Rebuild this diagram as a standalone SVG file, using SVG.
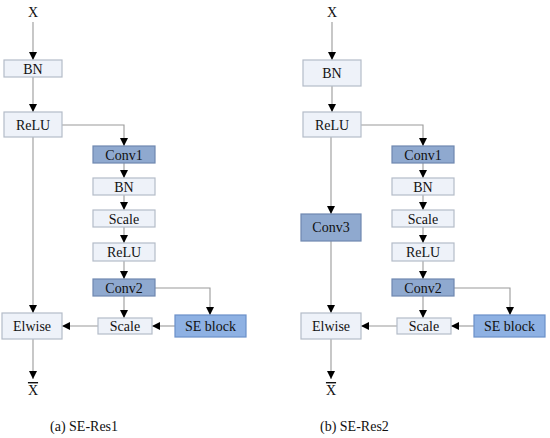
<svg xmlns="http://www.w3.org/2000/svg" width="550" height="438" viewBox="0 0 550 438" font-family="'Liberation Serif', 'DejaVu Serif', 'Times New Roman', serif">
<style>
text{font-size:14px;fill:#111;text-anchor:middle}
.lt{fill:#eef2f9;stroke:#b4bcc8;stroke-width:1.2}
.dk{fill:#8fa9cf;stroke:#6f88b0;stroke-width:1.2}
.se{fill:#8eb1e3;stroke:#6a8fc8;stroke-width:1.2}
.c path{fill:none;stroke:#9a9a9a;stroke-width:1.1;marker-end:url(#ah)}
.cap{text-anchor:start}
</style>
<defs>
<marker id="ah" viewBox="0 0 8 8" refX="8" refY="4" markerWidth="8" markerHeight="8" orient="auto" markerUnits="userSpaceOnUse">
<path d="M0,0 L8,4 L0,8 z" fill="#000"/>
</marker>
</defs>
<g class="c" id="connectors">
<path d="M33,22 V60"/>
<path d="M33,77 V112"/>
<path d="M62,125 H124 V146"/>
<path d="M124,163 V178"/>
<path d="M124,195 V210"/>
<path d="M124,227 V243"/>
<path d="M124,261 V279"/>
<path d="M124,296 V318"/>
<path d="M155,288 H210 V315"/>
<path d="M175,326 H152"/>
<path d="M98,326 H62"/>
<path d="M33,137 V313"/>
<path d="M33,339 V379"/>
<path d="M332,22 V60"/>
<path d="M332,86 V112"/>
<path d="M361,125 H423 V146"/>
<path d="M423,163 V178"/>
<path d="M423,195 V210"/>
<path d="M423,227 V243"/>
<path d="M423,261 V279"/>
<path d="M423,296 V318"/>
<path d="M454,288 H510 V315"/>
<path d="M474,326 H451"/>
<path d="M397,326 H361"/>
<path d="M331,137 V214"/>
<path d="M331,241 V313"/>
<path d="M331,339 V379"/>
</g>
<g id="a-x"><text x="33" y="17">X</text></g>
<g id="a-bn"><rect class="lt" x="4" y="60" width="58" height="17"/><text x="33" y="73.5">BN</text></g>
<g id="a-relu"><rect class="lt" x="4" y="112" width="58" height="25"/><text x="33" y="129.5">ReLU</text></g>
<g id="a-conv1"><rect class="dk" x="93" y="146" width="62" height="17"/><text x="124" y="159.5">Conv1</text></g>
<g id="a-bn2"><rect class="lt" x="93" y="178" width="62" height="17"/><text x="124" y="191.5">BN</text></g>
<g id="a-scale1"><rect class="lt" x="93" y="210" width="62" height="17"/><text x="124" y="223.5">Scale</text></g>
<g id="a-relu2"><rect class="lt" x="93" y="243" width="62" height="18"/><text x="124" y="256.5">ReLU</text></g>
<g id="a-conv2"><rect class="dk" x="93" y="279" width="62" height="17"/><text x="124" y="292.5">Conv2</text></g>
<g id="a-scale2"><rect class="lt" x="98" y="318" width="54" height="16"/><text x="125" y="331">Scale</text></g>
<g id="a-se"><rect class="se" x="175" y="315" width="71" height="22"/><text x="210.5" y="331">SE block</text></g>
<g id="a-elwise"><rect class="lt" x="2" y="313" width="60" height="26"/><text x="32" y="331">Elwise</text></g>
<g id="a-out"><text x="33" y="395" style="text-decoration:overline">X</text></g>
<text class="cap" x="50" y="431">(a) SE-Res1</text>
<g id="b-x"><text x="332" y="17">X</text></g>
<g id="b-bn"><rect class="lt" x="303" y="60" width="58" height="26"/><text x="332" y="78">BN</text></g>
<g id="b-relu"><rect class="lt" x="303" y="112" width="58" height="25"/><text x="332" y="129.5">ReLU</text></g>
<g id="b-conv1"><rect class="dk" x="392" y="146" width="62" height="17"/><text x="423" y="159.5">Conv1</text></g>
<g id="b-bn2"><rect class="lt" x="392" y="178" width="62" height="17"/><text x="423" y="191.5">BN</text></g>
<g id="b-scale1"><rect class="lt" x="392" y="210" width="62" height="17"/><text x="423" y="223.5">Scale</text></g>
<g id="b-relu2"><rect class="lt" x="392" y="243" width="62" height="18"/><text x="423" y="256.5">ReLU</text></g>
<g id="b-conv2"><rect class="dk" x="392" y="279" width="62" height="17"/><text x="423" y="292.5">Conv2</text></g>
<g id="b-conv3"><rect class="dk" x="301" y="214" width="60" height="27"/><text x="331" y="232">Conv3</text></g>
<g id="b-scale2"><rect class="lt" x="397" y="318" width="54" height="16"/><text x="424" y="331">Scale</text></g>
<g id="b-se"><rect class="se" x="474" y="315" width="71" height="22"/><text x="509.5" y="331">SE block</text></g>
<g id="b-elwise"><rect class="lt" x="301" y="313" width="60" height="26"/><text x="331" y="331">Elwise</text></g>
<g id="b-out"><text x="331" y="395" style="text-decoration:overline">X</text></g>
<text class="cap" x="320" y="431">(b) SE-Res2</text>
</svg>
